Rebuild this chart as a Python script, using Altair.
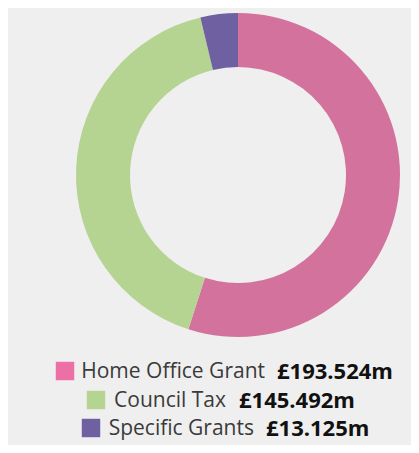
import altair as alt
import pandas as pd

categories = ["Home Office Grant", "Council Tax", "Specific Grants"]
values = [193.524, 145.492, 13.125]
value_labels = ["£193.524m", "£145.492m", "£13.125m"]
slice_colors = ["#D3739D", "#B5D491", "#6F60A1"]
legend_colors = ["#EC6FA5", "#B5D491", "#6F60A1"]

# layout (pixels within the chart)
W, H = 403, 437
CX, CY = 230, 167
R_OUT, R_IN = 162, 108
row_y = [363, 392, 420]
square_x = [57, 88, 83]
label_right = [257, 218, 246]
value_left = [269, 231, 258]

df = pd.DataFrame({"category": categories, "value": values, "order": [0, 1, 2]})
leg = pd.DataFrame({
    "category": categories,
    "vlabel": value_labels,
    "ry": row_y,
    "sx": square_x,
    "lr": label_right,
    "vl": value_left,
})

color_scale = alt.Scale(domain=categories, range=slice_colors)
leg_scale = alt.Scale(domain=categories, range=legend_colors)

donut = alt.Chart(df).mark_arc(radius=R_OUT, radius2=R_IN, stroke=None).encode(
    theta=alt.Theta("value:Q", stack=True),
    order=alt.Order("order:Q"),
    color=alt.Color("category:N", scale=color_scale, legend=None),
    x=alt.value(CX),
    y=alt.value(CY),
)

squares = alt.Chart(leg).mark_square(size=340, opacity=1).encode(
    x=alt.X("sx:Q", scale=None),
    y=alt.Y("ry:Q", scale=None),
    color=alt.Color("category:N", scale=leg_scale, legend=None),
)

labels = alt.Chart(leg).mark_text(
    align="right", baseline="middle", font="Open Sans", fontSize=21, color="#3a3a3a", dy=1
).encode(
    x=alt.X("lr:Q", scale=None),
    y=alt.Y("ry:Q", scale=None),
    text="category:N",
)

vals = alt.Chart(leg).mark_text(
    align="left", baseline="middle", font="Open Sans", fontSize=22, fontWeight="bold", color="#111111", dy=1
).encode(
    x=alt.X("vl:Q", scale=None),
    y=alt.Y("ry:Q", scale=None),
    text="vlabel:N",
)

chart = alt.layer(donut, squares, labels, vals).properties(
    width=W, height=H, autosize=alt.AutoSizeParams(type="none"), padding=0,
    background="#EFEFEF",
).resolve_scale(color="independent").configure_view(stroke=None, fill="#EFEFEF")

chart.save("out.html", embed_options={"renderer": "svg", "actions": False})
